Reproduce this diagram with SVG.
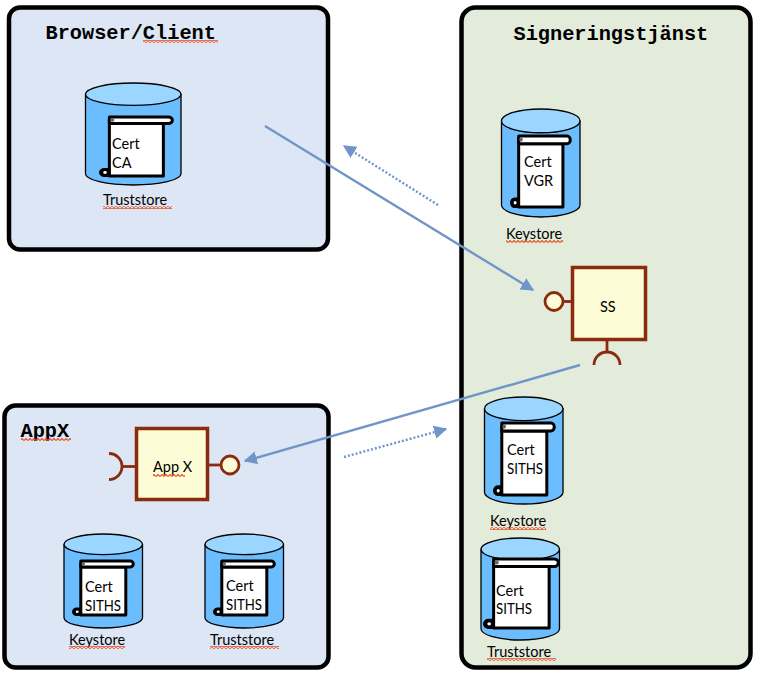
<svg xmlns="http://www.w3.org/2000/svg" width="757" height="674" viewBox="0 0 757 674">
<style>
.panel{stroke:#000;stroke-width:4.5}
.blue{fill:#dce6f4}
.green{fill:#e3ebdb}
.title{font:bold 20.300px "Liberation Mono",monospace;fill:#000}
.lbl{font:14.500px Lato,"Open Sans",sans-serif;fill:#000}
.ns{vector-effect:non-scaling-stroke;stroke-linejoin:round}
.comp{fill:#fefcd6;stroke:#8a2b0e;stroke-width:3.500}
.lk{fill:none;stroke:#8a2b0e;stroke-width:2.800}
.c{fill:none;stroke:#7095c8;stroke-width:2.400}
.d{stroke-dasharray:2 2}
</style>
<defs>
<marker id="ah" viewBox="0 0 10 10" refX="9" refY="5" markerWidth="5.500" markerHeight="5.500" orient="auto"><path d="M0 0L10 5L0 10Z" fill="#7095c8"/></marker>
<pattern id="wavy" width="4" height="3" patternUnits="userSpaceOnUse"><path d="M0 2.500L2 .5L4 2.500" fill="none" stroke="#e8552b" stroke-width="1.200"/></pattern>
<g id="db">
<path class="ns" d="M0 11V89C0 95 22 100 50 100S100 95 100 89V11Z" fill="#6bbdfd" stroke="#000" stroke-width="1.300"/>
<ellipse class="ns" cx="50" cy="11" rx="50" ry="11" fill="#9ad6ff" stroke="#000" stroke-width="1.300"/>
</g>
<g id="scroll">
<path class="ns" d="M13 5V100H88V11H13Z" fill="#fff" stroke="#000" stroke-width="3"/>
<path class="ns" d="M13 0H95A5 5 0 0 1 95 11H13Z" fill="#fff" stroke="#000" stroke-width="3"/>
<path class="ns" d="M13 88H6A6 6 0 0 0 6 100H13Z" fill="#000" stroke="#000" stroke-width="2"/>
<ellipse class="ns" cx="7" cy="94" rx="2.500" ry="2.500" fill="#fff"/>
<ellipse class="ns" cx="17" cy="5" rx="3" ry="3" fill="#666"/>
</g>
</defs>

<g id="browser">
<rect class="panel blue" x="9" y="7.500" width="319" height="242" rx="11"/>
<text class="title" x="45.500" y="39">Browser/Client</text>
<rect x="143" y="40" width="75" height="3" fill="url(#wavy)"/>
</g>
<g id="appx">
<rect class="panel blue" x="4.500" y="405.500" width="324" height="262" rx="11"/>
<text class="title" x="20.500" y="437">AppX</text>
<rect x="21" y="438" width="50" height="3" fill="url(#wavy)"/>
</g>
<g id="signering">
<rect class="panel green" x="461.500" y="7.500" width="289" height="660" rx="14"/>
<text class="title" x="513.500" y="40">Signeringstjänst</text>
</g>

<g id="store-browser">
<use href="#db" transform="translate(85.500 83) scale(.955 1.02)"/>
<use href="#scroll" transform="translate(100 117) scale(.72 .59)"/>
<text class="lbl" x="112" y="149">Cert</text><text class="lbl" x="112" y="168">CA</text>
<text class="lbl" x="103" y="205">Truststore</text>
<rect x="103" y="206" width="69" height="3" fill="url(#wavy)"/>
</g>
<g id="store-vgr">
<use href="#db" transform="translate(501.500 109) scale(.785 1.08)"/>
<use href="#scroll" transform="translate(511 136) scale(.59 .71)"/>
<text class="lbl" x="524" y="167">Cert</text><text class="lbl" x="524" y="186">VGR</text>
<text class="lbl" x="506" y="239">Keystore</text>
<rect x="506" y="240" width="57" height="3" fill="url(#wavy)"/>
</g>
<g id="ss">
<line class="lk" x1="563" y1="301.500" x2="572" y2="301.500"/>
<circle class="comp" cx="554" cy="301.500" r="9" style="stroke-width:2.800"/>
<line class="lk" x1="607" y1="340" x2="607" y2="352"/>
<path class="lk" d="M594 365A13 13 0 0 1 620 365"/>
<rect class="comp" x="572.500" y="267.500" width="73" height="72"/>
<text class="lbl" x="600" y="312">SS</text>
</g>
<g id="store-sign-key">
<use href="#db" transform="translate(484.500 397) scale(.785 1.07)"/>
<use href="#scroll" transform="translate(494 423) scale(.6 .72)"/>
<text class="lbl" x="507" y="455">Cert</text><text class="lbl" x="507" y="474" textLength="36" lengthAdjust="spacingAndGlyphs">SITHS</text>
<text class="lbl" x="490" y="526">Keystore</text>
<rect x="490" y="527" width="56" height="3" fill="url(#wavy)"/>
</g>
<g id="store-sign-trust">
<use href="#db" transform="translate(481 538) scale(.785 1.02)"/>
<use href="#scroll" transform="translate(484 559) scale(.74 .69)"/>
<text class="lbl" x="496" y="596">Cert</text><text class="lbl" x="496" y="614" textLength="36" lengthAdjust="spacingAndGlyphs">SITHS</text>
<text class="lbl" x="487" y="657">Truststore</text>
<rect x="487" y="658" width="69" height="3" fill="url(#wavy)"/>
</g>
<g id="appx-comp">
<line class="lk" x1="207" y1="465" x2="221" y2="465"/>
<circle class="comp" cx="230" cy="465" r="9" style="stroke-width:2.800"/>
<line class="lk" x1="123" y1="466.500" x2="136" y2="466.500"/>
<path class="lk" d="M109 453.500A13 13 0 0 1 109 479.500"/>
<rect class="comp" x="136.500" y="428.500" width="71" height="71"/>
<text class="lbl" x="153" y="472">App X</text>
<rect x="153" y="474" width="32" height="3" fill="url(#wavy)"/>
</g>
<g id="store-appx-key">
<use href="#db" transform="translate(64 534) scale(.785 .94)"/>
<use href="#scroll" transform="translate(73 561) scale(.6 .54)"/>
<text class="lbl" x="85" y="592">Cert</text><text class="lbl" x="85" y="611" textLength="36" lengthAdjust="spacingAndGlyphs">SITHS</text>
<text class="lbl" x="69" y="645">Keystore</text>
<rect x="69" y="646" width="56" height="3" fill="url(#wavy)"/>
</g>
<g id="store-appx-trust">
<use href="#db" transform="translate(205 534) scale(.785 .94)"/>
<use href="#scroll" transform="translate(214 561) scale(.6 .54)"/>
<text class="lbl" x="226" y="591">Cert</text><text class="lbl" x="226" y="610" textLength="36" lengthAdjust="spacingAndGlyphs">SITHS</text>
<text class="lbl" x="210" y="645">Truststore</text>
<rect x="210" y="646" width="69" height="3" fill="url(#wavy)"/>
</g>

<g id="connectors">
<line class="c" x1="265" y1="126" x2="533" y2="290" marker-end="url(#ah)"/>
<line class="c" x1="580" y1="365" x2="245" y2="461" marker-end="url(#ah)"/>
<line class="c d" x1="438" y1="205" x2="344" y2="146" marker-end="url(#ah)"/>
<line class="c d" x1="344" y1="457" x2="446" y2="429" marker-end="url(#ah)"/>
</g>
</svg>
